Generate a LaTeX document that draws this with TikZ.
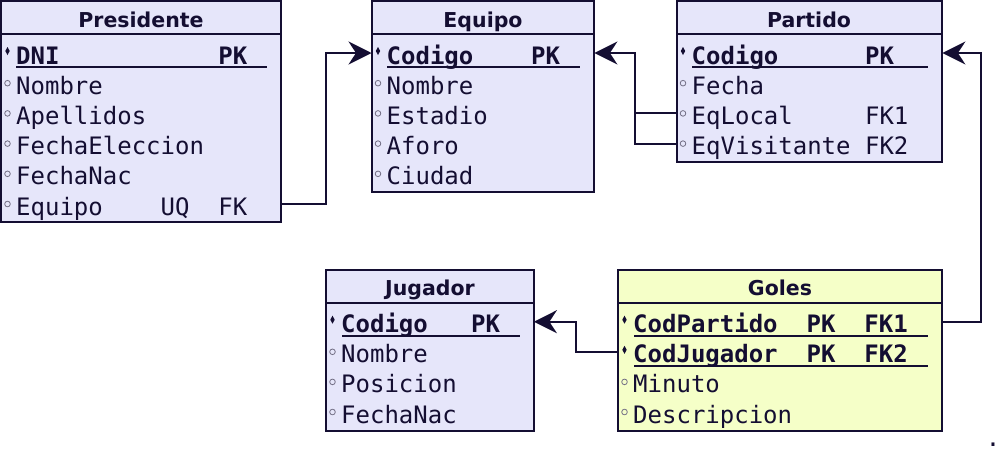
\documentclass[tikz,border=0pt]{standalone}
\usepackage{fontspec}
\setmainfont{DejaVu Sans}
\newfontfamily\monofont{DejaVu Sans Mono}
\newfontfamily\headfont{DejaVu Sans}
\usetikzlibrary{arrows.meta}
\definecolor{ink}{RGB}{20,14,50}
\definecolor{lav}{RGB}{230,230,250}
\definecolor{yel}{RGB}{245,255,200}
\newcommand\rowfont{\monofont\fontsize{24}{30}\selectfont}
\newcommand\headtxt{\headfont\bfseries\fontsize{20.5}{24}\selectfont}
\newcommand\trow[5]{\node[rowtext] (#1) at (#2,#3) {\makebox[#4pt][l]{\hspace*{15pt}#5}};}
\newcommand\keymark[2]{\fill[ink] (#1+6.5,#2-17) -- (#1+8.7,#2-13) -- (#1+6.5,#2-9) -- (#1+4.3,#2-13) -- cycle;}
\newcommand\attmark[2]{\draw[ink!60, line width=0.8pt] (#1+6.5,#2-11) circle (2.8);}
\begin{document}
\begin{tikzpicture}[x=1pt,y=-1pt,
  rowtext/.style={anchor=base west, inner sep=0pt, text height=22pt, text depth=0pt, font=\rowfont, text=ink},
  headtext/.style={anchor=base, inner sep=0pt, font=\headtxt, text=ink},
  tablebox/.style={draw=ink, line width=2pt},
  keyline/.style={draw=ink, line width=2pt},
  conn/.style={draw=ink, line width=2pt},
  connarrow/.style={draw=ink, line width=2pt, -{Stealth[length=23pt,width=23pt,inset=7.5pt]}}
]
\useasboundingbox (0,0) rectangle (1000,453);

% ---------- Presidente ----------
\draw[tablebox, fill=lav] (1,1) rectangle (281,221.5);
\draw[tablebox] (1,34) -- (281,34);
\node[headtext] (pres) at (141,27) {Presidente};
\trow{pres-r1}{1}{64}{280}{\bfseries DNI~~~~~~~~~~~PK}
\trow{pres-r2}{1}{94.2}{280}{Nombre}
\trow{pres-r3}{1}{124.4}{280}{Apellidos}
\trow{pres-r4}{1}{154.6}{280}{FechaEleccion}
\trow{pres-r5}{1}{184.8}{280}{FechaNac}
\trow{pres-r6}{1}{215}{280}{Equipo~~~~UQ~~FK}
\draw[keyline] (16,67) -- (267,67);
\keymark{1}{64}
\attmark{1}{94.2}\attmark{1}{124.4}\attmark{1}{154.6}\attmark{1}{184.8}\attmark{1}{215}

% ---------- Equipo ----------
\draw[tablebox, fill=lav] (371.5,1) rectangle (594,191.5);
\draw[tablebox] (371.5,34) -- (594,34);
\node[headtext] (equ) at (483,27) {Equipo};
\trow{equ-r1}{371.5}{64}{222.5}{\bfseries Codigo~~~~PK}
\trow{equ-r2}{371.5}{94.2}{222.5}{Nombre}
\trow{equ-r3}{371.5}{124.4}{222.5}{Estadio}
\trow{equ-r4}{371.5}{154.6}{222.5}{Aforo}
\trow{equ-r5}{371.5}{184.8}{222.5}{Ciudad}
\draw[keyline] (387,67) -- (580,67);
\keymark{371.5}{64}
\attmark{371.5}{94.2}\attmark{371.5}{124.4}\attmark{371.5}{154.6}\attmark{371.5}{184.8}

% ---------- Partido ----------
\draw[tablebox, fill=lav] (676.5,1) rectangle (942,161.5);
\draw[tablebox] (676.5,34) -- (942,34);
\node[headtext] (par) at (809,27) {Partido};
\trow{par-r1}{676.5}{64}{265.5}{\bfseries Codigo~~~~~~PK}
\trow{par-r2}{676.5}{94.2}{265.5}{Fecha}
\trow{par-r3}{676.5}{124.4}{265.5}{EqLocal~~~~~FK1}
\trow{par-r4}{676.5}{154.6}{265.5}{EqVisitante~FK2}
\draw[keyline] (692,67) -- (928,67);
\keymark{676.5}{64}
\attmark{676.5}{94.2}\attmark{676.5}{124.4}\attmark{676.5}{154.6}

% ---------- Jugador ----------
\draw[tablebox, fill=lav] (326,269.5) rectangle (533.5,431);
\draw[tablebox] (326,302.5) -- (533.5,302.5);
\node[headtext] (jug) at (430,295.5) {Jugador};
\trow{jug-r1}{326}{332.7}{207.5}{\bfseries Codigo~~~PK}
\trow{jug-r2}{326}{362.8}{207.5}{Nombre}
\trow{jug-r3}{326}{392.9}{207.5}{Posicion}
\trow{jug-r4}{326}{423}{207.5}{FechaNac}
\draw[keyline] (342,336) -- (520,336);
\keymark{326}{332.7}
\attmark{326}{362.8}\attmark{326}{392.9}\attmark{326}{423}

% ---------- Goles ----------
\draw[tablebox, fill=yel] (618,269.5) rectangle (942,431);
\draw[tablebox] (618,302.5) -- (942,302.5);
\node[headtext] (gol) at (780,295.5) {Goles};
\trow{gol-r1}{618}{332.7}{324}{\bfseries CodPartido~~PK~~FK1}
\trow{gol-r2}{618}{362.8}{324}{\bfseries CodJugador~~PK~~FK2}
\trow{gol-r3}{618}{392.9}{324}{Minuto}
\trow{gol-r4}{618}{423}{324}{Descripcion}
\draw[keyline] (634,336) -- (928,336);
\draw[keyline] (634,366.3) -- (928,366.3);
\keymark{618}{332.7}\keymark{618}{362.8}
\attmark{618}{392.9}\attmark{618}{423}

% ---------- connectors ----------
\draw[connarrow] (pres-r6.east) -- ++(45,0) |- (equ-r1.west);
\draw[conn] (par-r3.west) -- ++(-41.5,0);
\draw[connarrow] (par-r4.west) -- ++(-41.5,0) |- (equ-r1.east);
\draw[connarrow] (gol-r1.east) -- ++(39,0) |- (par-r1.east);
\draw[connarrow] (gol-r2.west) -- ++(-42,0) |- (jug-r1.east);

\node[font=\rowfont, text=ink, anchor=base, inner sep=0pt] (dot) at (993,446) {.};
\end{tikzpicture}
\end{document}
